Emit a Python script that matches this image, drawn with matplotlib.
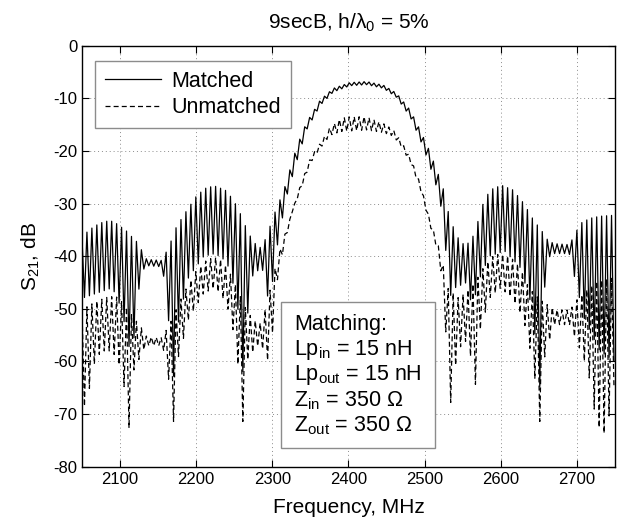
import numpy as np
import matplotlib
matplotlib.use('Agg')
import matplotlib.pyplot as plt

plt.rcParams['font.family'] = ['Liberation Sans', 'DejaVu Sans']
plt.rcParams['mathtext.fontset'] = 'custom'
plt.rcParams['mathtext.rm'] = 'Liberation Sans'
plt.rcParams['mathtext.it'] = 'Liberation Sans:italic'
plt.rcParams['axes.unicode_minus'] = False

# ripple period of the sidelobes (MHz)
RIPPLE_MHZ = 6.5

# Matched: peak (upper) and trough (lower) envelopes
matched_up_f = [2050, 2055, 2060, 2066, 2079, 2086, 2092, 2098, 2104, 2111, 2117, 2124, 2130,
                2135, 2155, 2162, 2166, 2174, 2188, 2201, 2214, 2225, 2238, 2249, 2260, 2268,
                2277, 2283, 2289, 2295, 2301, 2308, 2315, 2323, 2332, 2345, 2350, 2363, 2380,
                2402, 2424, 2446, 2463, 2481, 2494, 2505, 2516, 2525, 2530, 2535, 2542, 2548,
                2555, 2562, 2568, 2577, 2586, 2601, 2616, 2630, 2643, 2656, 2662, 2670, 2690,
                2697, 2704, 2717, 2730, 2750]
matched_up_db = [-36.5, -35.6, -35.0, -34.3, -33.4, -33.3, -33.4, -34.1, -34.7, -35.5, -36.6, -37.5, -39.4,
                 -40.6, -40.8, -38.8, -37.5, -34.4, -31.2, -28.4, -26.9, -26.7, -27.4, -29.3, -32.5, -35.5,
                 -37.5, -38.5, -37.4, -35.2, -32.5, -30.0, -27.5, -23.6, -19.2, -14.5, -13.4, -10.3, -8.1,
                 -7.0, -6.8, -7.5, -9.0, -12.2, -16.0, -19.5, -23.6, -27.4, -31.0, -33.5, -36.0, -37.5,
                 -37.8, -36.8, -34.4, -29.9, -27.4, -26.5, -27.4, -29.9, -33.1, -35.6, -37.0, -37.6, -37.8,
                 -36.0, -33.8, -32.8, -32.4, -32.2]
matched_lo_f = [2050, 2070, 2090, 2102, 2110, 2116, 2121, 2128, 2135, 2155, 2160, 2166, 2171,
                2177, 2190, 2210, 2225, 2240, 2250, 2257, 2263, 2268, 2275, 2287, 2293, 2297,
                2302, 2310, 2320, 2332, 2345, 2363, 2380, 2402, 2424, 2446, 2463, 2481, 2494,
                2505, 2516, 2525, 2532, 2540, 2555, 2563, 2570, 2585, 2605, 2625, 2638, 2646,
                2652, 2658, 2665, 2690, 2697, 2710, 2730, 2750]
matched_lo_db = [-48, -47, -46, -50, -56, -60, -50, -43, -41.8, -42, -46, -56, -64,
                 -52, -44, -40, -39.5, -41, -46, -52, -66, -50, -43, -42.5, -47, -50,
                 -42, -35, -28, -22, -16, -11.3, -8.8, -7.6, -7.4, -8.1, -9.8, -13.5, -17.8,
                 -22, -27, -33, -48, -46, -45, -50, -45, -40, -39, -42, -48, -56,
                 -66, -45, -39.5, -39.5, -44, -52, -58, -60]

# Unmatched: peak and trough envelopes
unmatched_up_f = [2050, 2060, 2070, 2085, 2095, 2105, 2117, 2130, 2135, 2155, 2166, 2177, 2188,
                  2200, 2214, 2225, 2235, 2242, 2249, 2258, 2266, 2275, 2284, 2292, 2299, 2306,
                  2312, 2320, 2328, 2337, 2350, 2363, 2376, 2390, 2402, 2424, 2446, 2459, 2468,
                  2481, 2494, 2500, 2507, 2516, 2524, 2530, 2545, 2560, 2570, 2580, 2590, 2599,
                  2612, 2626, 2634, 2643, 2652, 2665, 2673, 2691, 2700, 2713, 2726, 2743, 2750]
unmatched_up_db = [-50.2, -49.3, -48.5, -47.7, -47.7, -49.0, -51.5, -54.0, -55.3, -55.5, -52.7, -49.0, -45.8,
                   -42.8, -40.7, -40.2, -40.8, -42.6, -44.5, -47.7, -50.2, -52.1, -52.7, -49.6, -45.2, -40.7,
                   -37.6, -34.4, -30.6, -26.5, -21.3, -18.5, -15.4, -13.8, -13.5, -13.5, -14.8, -16.0, -17.9,
                   -21.1, -26.1, -29.3, -33.1, -36.9, -41.3, -46.0, -48.0, -46.0, -44.0, -41.5, -40.0, -39.5,
                   -40.1, -42.0, -45.2, -47.0, -48.3, -49.6, -50.2, -50.2, -48.3, -46.4, -44.8, -44.2, -44.2]
unmatched_lo_f = [2050, 2054, 2057, 2061, 2075, 2090, 2100, 2107, 2112, 2117, 2130, 2135, 2155,
                  2160, 2166, 2170, 2175, 2190, 2210, 2225, 2240, 2250, 2256, 2261, 2266, 2280,
                  2292, 2297, 2302, 2308, 2316, 2325, 2337, 2350, 2363, 2376, 2390, 2402, 2424,
                  2446, 2459, 2468, 2481, 2494, 2500, 2507, 2516, 2524, 2530, 2536, 2542, 2555,
                  2562, 2566, 2571, 2585, 2600, 2615, 2630, 2642, 2647, 2651, 2656, 2670, 2690,
                  2705, 2715, 2726, 2738, 2745, 2750]
unmatched_lo_db = [-62, -70, -72, -62, -58, -58, -61, -66, -73, -62, -58, -57, -57,
                   -59, -66, -72, -60, -52, -47, -46, -49, -55, -62, -72, -60, -57,
                   -58, -63, -50, -43, -38, -32, -27.5, -22.3, -19.5, -17, -16.3, -16.2, -16,
                   -16.5, -17.2, -18.9, -22.1, -27.1, -30.3, -34.1, -38.5, -45, -60, -71, -58, -56,
                   -60, -66, -55, -48, -46, -48, -52, -60, -66, -72, -60, -53, -53,
                   -58, -62, -72, -74, -68, -64]

xticks = [2100, 2200, 2300, 2400, 2500, 2600, 2700]
yticks = [0, -10, -20, -30, -40, -50, -60, -70, -80]
match_lines = ['Matching:', 'Lp$_{\\mathrm{in}}$ = 15 nH', 'Lp$_{\\mathrm{out}}$ = 15 nH',
               'Z$_{\\mathrm{in}}$ = 350 \u03a9', 'Z$_{\\mathrm{out}}$ = 350 \u03a9']


def ripple_curve(up_f, up_db, lo_f, lo_db):
    # alternate between the peak and trough envelopes every half ripple
    f = np.arange(2050, 2750 + 0.01, RIPPLE_MHZ / 2)
    up = np.interp(f, up_f, up_db)
    lo = np.interp(f, lo_f, lo_db)
    vals = np.where(np.arange(len(f)) % 2 == 0, up, lo)
    return f, vals


fig = plt.figure(figsize=(6.23, 5.22), dpi=100)
ax = fig.add_axes([0.1316, 0.1059, 0.8555, 0.8065])

f1, s1 = ripple_curve(matched_up_f, matched_up_db, matched_lo_f, matched_lo_db)
f2, s2 = ripple_curve(unmatched_up_f, unmatched_up_db, unmatched_lo_f, unmatched_lo_db)
ax.plot(f1, s1, color='black', lw=0.9, label='Matched')
ax.plot(f2, s2, color='black', lw=0.9, dashes=(4, 2.5), label='Unmatched')

ax.set_xlim(2050, 2750)
ax.set_ylim(-80, 0)
ax.set_xticks(xticks)
ax.set_yticks(yticks)
ax.tick_params(direction='in', top=True, right=True, length=5, width=0.8, labelsize=12)
ax.grid(True, linestyle=(0, (1, 3)), color='0.55', lw=0.7)
for sp in ax.spines.values():
    sp.set_linewidth(1.0)

ax.set_xlabel('Frequency, MHz', fontsize=15, labelpad=8)
ax.set_ylabel('S$_{21}$, dB', fontsize=15, labelpad=8)
ax.set_title('9secB, h/\u03bb$_0$ = 5%', fontsize=15, pad=12)

leg = ax.legend(loc='upper left', bbox_to_anchor=(0.0244, 0.9637), borderaxespad=0,
                fancybox=False, edgecolor='0.55', framealpha=1, fontsize=15.5,
                handlelength=2.6, handletextpad=0.5, borderpad=0.45, labelspacing=0.25)
leg.get_frame().set_linewidth(1.0)

box = plt.Rectangle((0.3734, 0.0444), 0.2889, 0.3468, transform=ax.transAxes,
                    facecolor='white', edgecolor='0.55', lw=1.0, zorder=3)
ax.add_patch(box)
for txt, yb in zip(match_lines, [0.3247, 0.2653, 0.2059, 0.1425, 0.0831]):
    ax.text(0.3977, yb, txt, transform=ax.transAxes, fontsize=15.5, va='baseline', zorder=4)

fig.savefig('out.png', dpi=100)
